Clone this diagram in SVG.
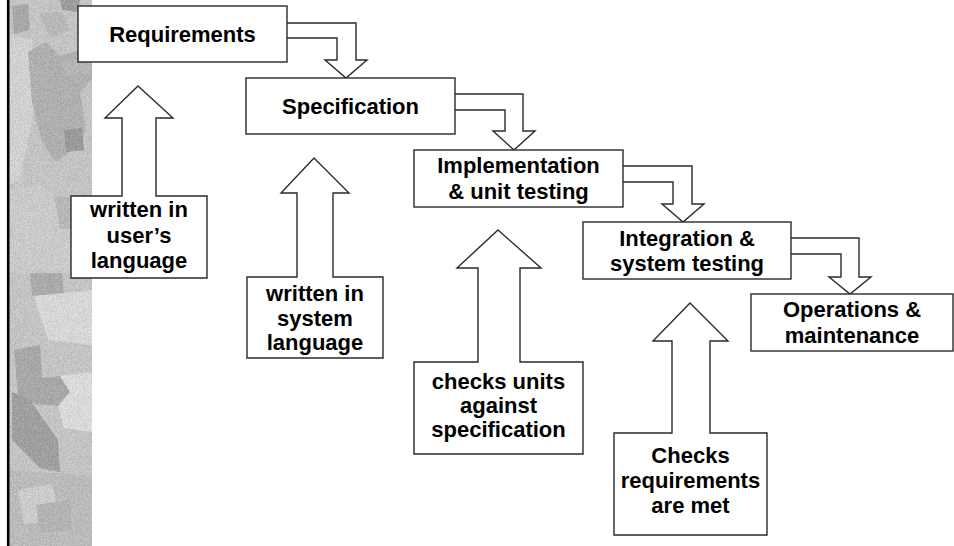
<svg xmlns="http://www.w3.org/2000/svg" width="954" height="546" viewBox="0 0 954 546">
  <style>
    .box { fill: #ffffff; stroke: #2a2a2a; stroke-width: 1.4; }
    .flow { fill: #ffffff; stroke: #2a2a2a; stroke-width: 1.4; stroke-linejoin: miter; }
    .lbl { font-family: "Liberation Sans", Arial, sans-serif; font-weight: bold; font-size: 22px; fill: #000000; text-anchor: middle; }
  </style>
  <defs>
    <filter id="grain" x="0" y="0" width="100%" height="100%">
      <feTurbulence type="fractalNoise" baseFrequency="1.1" numOctaves="2" seed="7"/>
      <feColorMatrix type="saturate" values="0"/>
      <feComponentTransfer>
        <feFuncR type="discrete" tableValues="0.3 0.5 0.75 1"/>
        <feFuncG type="discrete" tableValues="0.3 0.5 0.75 1"/>
        <feFuncB type="discrete" tableValues="0.3 0.5 0.75 1"/>
        <feFuncA type="linear" slope="0" intercept="0.4"/>
      </feComponentTransfer>
    </filter>
    <clipPath id="band">
      <rect x="9" y="0" width="83" height="546"/>
    </clipPath>
  </defs>

  <rect x="0" y="0" width="954" height="546" fill="#ffffff"/>

  <!-- decorative textured side band -->
  <g id="side-band" clip-path="url(#band)">
    <rect x="9" y="0" width="83" height="546" fill="#bcbcbc"/>
    <polygon points="9,35 32,40 34,110 20,180 9,185" fill="#d2d2d2"/>
    <polygon points="12,6 28,4 30,30 14,34" fill="#8c8c8c"/>
    <polygon points="60,0 80,0 78,12 62,10" fill="#7c7c7c"/>
    <polygon points="40,14 62,12 70,30 50,38" fill="#a8a8a8"/>
    <polygon points="28,52 46,42 60,56 92,46 92,78 80,92 86,130 72,150 56,162 42,142 32,102" fill="#9c9c9c"/>
    <polygon points="64,130 82,128 84,150 66,152" fill="#767676"/>
    <polygon points="60,62 92,58 92,74 66,74" fill="#a4a4a4"/>
    <polygon points="9,190 40,185 60,200 92,210 92,273 9,273" fill="#c6c6c6"/>
    <polygon points="54,196 92,200 92,232 60,228" fill="#a8a8a8"/>
    <polygon points="30,273 62,273 64,294 32,296" fill="#929292"/>
    <polygon points="34,296 92,290 92,345 48,340" fill="#dcdcdc"/>
    <polygon points="14,350 40,345 42,378 60,376 70,392 58,406 36,404 18,396" fill="#8e8e8e"/>
    <polygon points="42,378 92,372 92,432 64,428 58,406 70,392 60,376" fill="#e2e2e2"/>
    <polygon points="12,392 30,400 58,440 60,472 40,468 12,440" fill="#808080"/>
    <polygon points="9,470 92,476 92,546 9,546" fill="#adadad"/>
    <polygon points="18,490 52,484 60,520 24,524" fill="#cacaca"/>
    <polygon points="36,505 70,500 72,530 40,532" fill="#a0a0a0"/>
    <rect x="9" y="0" width="83" height="546" filter="url(#grain)"/>
  </g>
  <line x1="8.2" y1="0" x2="8.2" y2="546" stroke="#000000" stroke-width="2.6"/>

  <!-- stage-to-stage block connectors -->
  <g id="connectors">
    <path class="flow" d="M287,23 H356 V60 H367 L346,78 L325,60 H337 V38 H287"/>
    <path class="flow" d="M455,94 H523 V131 H535 L514,150 L493,131 H505 V110 H455"/>
    <path class="flow" d="M623,166 H692 V204 H704 L683,222 L662,204 H673 V182 H623"/>
    <path class="flow" d="M791,238 H859 V277 H871 L850,294 L829,277 H841 V254 H791"/>
  </g>

  <!-- stages -->
  <g id="requirements">
    <rect class="box" x="78" y="6" width="209" height="56"/>
    <text class="lbl" x="182.5" y="42">Requirements</text>
  </g>
  <g id="specification">
    <rect class="box" x="246" y="78" width="209" height="56"/>
    <text class="lbl" x="350.5" y="114">Specification</text>
  </g>
  <g id="implementation">
    <rect class="box" x="414" y="150" width="209" height="57"/>
    <text class="lbl" x="518.5" y="173">Implementation</text>
    <text class="lbl" x="518.5" y="199">&amp; unit testing</text>
  </g>
  <g id="integration">
    <rect class="box" x="583" y="222" width="208" height="57"/>
    <text class="lbl" x="687" y="246">Integration &amp;</text>
    <text class="lbl" x="687" y="271">system testing</text>
  </g>
  <g id="operations">
    <rect class="box" x="751" y="294" width="202" height="57"/>
    <text class="lbl" x="852" y="317">Operations &amp;</text>
    <text class="lbl" x="852" y="343">maintenance</text>
  </g>

  <!-- annotation callouts pointing up at the stages -->
  <g id="note-user-language">
    <path class="flow" d="M138,86 L173,118 H156 V196 H207 V278 H71 V196 H122 V118 H105 Z"/>
    <text class="lbl" x="139" y="217">written in</text>
    <text class="lbl" x="139" y="242.5">user’s</text>
    <text class="lbl" x="139" y="268">language</text>
  </g>
  <g id="note-system-language">
    <path class="flow" d="M314,158 L349,193 H333 V277 H383 V358 H247 V277 H297 V193 H281 Z"/>
    <text class="lbl" x="315" y="301">written in</text>
    <text class="lbl" x="315" y="325.5">system</text>
    <text class="lbl" x="315" y="350">language</text>
  </g>
  <g id="note-unit-checks">
    <path class="flow" d="M498,230 L541,268 H520 V362 H583 V454 H414 V362 H478 V268 H457 Z"/>
    <text class="lbl" x="498.5" y="389">checks units</text>
    <text class="lbl" x="498.5" y="413">against</text>
    <text class="lbl" x="498.5" y="437">specification</text>
  </g>
  <g id="note-requirements-met">
    <path class="flow" d="M690,303 L728,341 H710 V433 H767 V535 H614 V433 H672 V341 H653 Z"/>
    <text class="lbl" x="690.5" y="463">Checks</text>
    <text class="lbl" x="690.5" y="488">requirements</text>
    <text class="lbl" x="690.5" y="513">are met</text>
  </g>
</svg>
